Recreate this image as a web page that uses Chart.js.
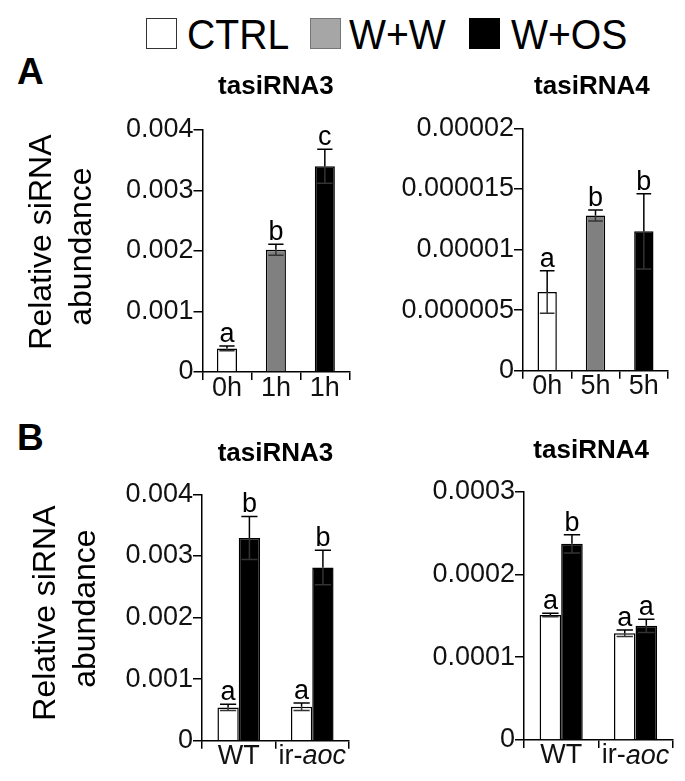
<!DOCTYPE html>
<html><head><meta charset="utf-8">
<script src="https://cdn.jsdelivr.net/npm/chart.js@4.4.1/dist/chart.umd.min.js"></script>
<style>
html,body{margin:0;padding:0;background:#fff;}
body{width:685px;height:781px;position:relative;overflow:hidden;font-family:'Liberation Sans',Arial,sans-serif;}
canvas{position:absolute;left:0;top:0;}
.lab{position:absolute;font-weight:bold;font-size:37px;line-height:1;color:#000;}
.lg{position:absolute;font-size:43px;line-height:1;color:#000;transform-origin:0 0;transform:scaleX(0.91);white-space:nowrap;top:12.6px;}
.box{position:absolute;box-sizing:border-box;width:31px;height:31px;top:18px;border:1.5px solid #333;}
</style></head><body>
<div class="lab" style="left:17px;top:52.7px;">A</div>
<div class="lab" style="left:17px;top:418.7px;">B</div>
<div id="legend"></div>
<canvas id="c1" width="685" height="781"></canvas>
<canvas id="c2" width="685" height="781"></canvas>
<canvas id="c3" width="685" height="781"></canvas>
<canvas id="c4" width="685" height="781"></canvas>
<script>
// ---------- DATA ----------
const legendLabels = ['CTRL', 'W+W', 'W+OS'];

// Panel A, tasiRNA3
const a3Categories = ['0h', '1h', '1h'];
const a3Values = [0.00039, 0.00202, 0.0034];
const a3Errors = [0.00004, 0.00009, 0.00028];
const a3Letters = ['a', 'b', 'c'];
const a3TickValues = [0, 0.001, 0.002, 0.003, 0.004];
const a3TickLabels = ['0', '0.001', '0.002', '0.003', '0.004'];

// Panel A, tasiRNA4
const a4Categories = ['0h', '5h', '5h'];
const a4Values = [0.0000065, 0.0000128, 0.0000115];
const a4Errors = [0.00000175, 0.00000045, 0.0000031];
const a4Letters = ['a', 'b', 'b'];
const a4TickValues = [0, 0.000005, 0.00001, 0.000015, 0.00002];
const a4TickLabels = ['0', '0.000005', '0.00001', '0.000015', '0.00002'];

// Panel B
const bCategories = ['WT', 'ir-aoc'];
const bItalicSuffix = ['', 'aoc'];

const b3Ctrl = [0.00054, 0.00055];
const b3CtrlErr = [0.00005, 0.00006];
const b3CtrlLetters = ['a', 'a'];
const b3Os = [0.00329, 0.00281];
const b3OsErr = [0.00035, 0.00028];
const b3OsLetters = ['b', 'b'];
const b3TickValues = [0, 0.001, 0.002, 0.003, 0.004];
const b3TickLabels = ['0', '0.001', '0.002', '0.003', '0.004'];

const b4Ctrl = [0.000151, 0.000129];
const b4CtrlErr = [0.000002, 0.000004];
const b4CtrlLetters = ['a', 'a'];
const b4Os = [0.000237, 0.000138];
const b4OsErr = [0.000011, 0.000008];
const b4OsLetters = ['b', 'a'];
const b4TickValues = [0, 0.0001, 0.0002, 0.0003];
const b4TickLabels = ['0', '0.0001', '0.0002', '0.0003'];

const yTitleLines = ['Relative siRNA', 'abundance'];

// ---------- STYLE ----------
const FONT = "'Liberation Sans', Arial, sans-serif";
const COL_CTRL = '#ffffff', COL_WW = '#808080', COL_OS = '#000000';
Chart.defaults.font.family = FONT;

// legend (HTML)
(function(){
  const lg = document.getElementById('legend');
  const boxX = [146, 310, 469], textX = [187, 349, 511];
  const fills = ['#ffffff', '#a6a6a6', '#000000'];
  const borders = ['#333333', '#767676', '#000000'];
  legendLabels.forEach((t, i) => {
    const b = document.createElement('div');
    b.className = 'box';
    b.style.left = boxX[i] + 'px';
    b.style.background = fills[i];
    b.style.borderColor = borders[i];
    lg.appendChild(b);
    const s = document.createElement('div');
    s.className = 'lg';
    s.style.left = textX[i] + 'px';
    s.textContent = t;
    lg.appendChild(s);
  });
})();

const W = 685, H = 781;

const errorPlugin = {
  id: 'errs',
  afterDatasetsDraw(chart) {
    const ctx = chart.ctx, y = chart.scales.y;
    chart.data.datasets.forEach((ds, di) => {
      const meta = chart.getDatasetMeta(di);
      meta.data.forEach((bar, i) => {
        const v = ds.data[i], e = ds.errors[i];
        const yt = y.getPixelForValue(v + e), yc = y.getPixelForValue(v), yb = y.getPixelForValue(v - e);
        const half = bar.width * 0.38;
        ctx.save();
        ctx.lineWidth = 1.5;
        ctx.strokeStyle = '#000';
        ctx.beginPath();
        ctx.moveTo(bar.x, yc); ctx.lineTo(bar.x, yt);
        ctx.moveTo(bar.x - half, yt); ctx.lineTo(bar.x + half, yt);
        ctx.stroke();
        ctx.strokeStyle = '#333';
        ctx.beginPath();
        ctx.moveTo(bar.x, yc); ctx.lineTo(bar.x, yb);
        ctx.moveTo(bar.x - half, yb); ctx.lineTo(bar.x + half, yb);
        ctx.stroke();
        ctx.fillStyle = '#000';
        ctx.font = '27px ' + FONT;
        ctx.textAlign = 'center';
        ctx.textBaseline = 'alphabetic';
        ctx.fillText(ds.letters[i], bar.x, yt - 4);
        ctx.restore();
      });
    });
  }
};

const italicXLabels = {
  id: 'italicX',
  afterDraw(chart, args, opts) {
    if (!opts.on) return;
    const sc = chart.scales.x, ctx = chart.ctx;
    ctx.save();
    ctx.fillStyle = '#111';
    ctx.textBaseline = 'middle';
    ctx.textAlign = 'left';
    chart.data.labels.forEach((lab, i) => {
      const it = bItalicSuffix[i] || '';
      const normal = lab.slice(0, lab.length - it.length);
      ctx.font = '27px ' + FONT;
      const w1 = ctx.measureText(normal).width;
      ctx.font = 'italic 27px ' + FONT;
      const w2 = ctx.measureText(it).width;
      const x = sc.getPixelForTick(i) - (w1 + w2) / 2;
      const y = sc.top + 16;
      ctx.font = '27px ' + FONT;
      ctx.fillText(normal, x, y);
      ctx.font = 'italic 27px ' + FONT;
      ctx.fillText(it, x + w1, y);
    });
    ctx.restore();
  }
};

// shifts rotated y-title text upward by padding with leading spaces
function shiftTitle(lines, n) { return lines.map((l, i) => ' '.repeat(n[i]) + l); }

function panel(cfg) {
  const g = cfg.geo;
  const TLH = 31.2;
  const padTop = g.titleY - TLH / 2;
  new Chart(document.getElementById(cfg.id), {
    type: 'bar',
    data: { labels: cfg.labels, datasets: cfg.datasets },
    options: {
      responsive: false, animation: false, devicePixelRatio: 1,
      layout: { padding: { left: 0, top: padTop, right: W - g.right, bottom: H - g.bottom - 40 } },
      plugins: {
        legend: { display: false }, tooltip: { enabled: false },
        title: { display: true, text: cfg.title, fullSize: false, color: '#000',
          font: { size: 26, weight: 'bold', lineHeight: 1.2 },
          padding: { top: 0, bottom: g.top - padTop - TLH } },
        italicX: { on: !!cfg.customX }
      },
      scales: {
        x: {
          offset: true,
          grid: { display: true, offset: true, drawOnChartArea: false, drawTicks: true, tickLength: 8, color: '#000', lineWidth: 1.5 },
          border: { display: true, color: '#000', width: 1.5 },
          ticks: { display: !cfg.customX, color: '#111', font: { size: 27, lineHeight: 0.6 }, padding: 0, maxRotation: 0, autoSkip: false },
          afterFit: s => { s.height = 40; }
        },
        y: {
          min: 0, max: cfg.tickVals[cfg.tickVals.length - 1],
          afterBuildTicks: s => { s.ticks = cfg.tickVals.map(v => ({ value: v })); },
          grid: { display: true, drawOnChartArea: false, drawTicks: true, tickLength: 9, color: '#000', lineWidth: 1.5 },
          border: { display: true, color: '#000', width: 1.5 },
          ticks: { color: '#111', font: { size: 27 }, padding: 0, autoSkip: false, callback: (v, i) => cfg.tickLabels[i] },
          title: cfg.yTitle ? { display: true, text: cfg.yTitle, color: '#000', font: { size: 32, lineHeight: 1.25 }, padding: { top: cfg.yTitlePad, bottom: 0 } } : { display: false },
          afterFit: s => { s.width = g.left; }
        }
      }
    },
    plugins: [errorPlugin, italicXLabels]
  });
}

panel({
  id: 'c1', geo: { left: 202.5, right: 349.3, top: 130, bottom: 372, titleY: 87 },
  labels: a3Categories, title: 'tasiRNA3', yTitle: shiftTitle(yTitleLines, [2, 1]), yTitlePad: 21.7,
  tickVals: a3TickValues, tickLabels: a3TickLabels,
  datasets: [{ data: a3Values, errors: a3Errors, letters: a3Letters,
    backgroundColor: [COL_CTRL, COL_WW, COL_OS], borderColor: '#000', borderWidth: 1.5,
    categoryPercentage: 0.41, barPercentage: 1 }]
});

panel({
  id: 'c2', geo: { left: 523, right: 668, top: 128.3, bottom: 370.7, titleY: 87 },
  labels: a4Categories, title: 'tasiRNA4 ',
  tickVals: a4TickValues, tickLabels: a4TickLabels,
  datasets: [{ data: a4Values, errors: a4Errors, letters: a4Letters,
    backgroundColor: [COL_CTRL, COL_WW, COL_OS], borderColor: '#000', borderWidth: 1.5,
    categoryPercentage: 0.4, barPercentage: 1 }]
});

panel({
  id: 'c3', geo: { left: 202, right: 349, top: 494.3, bottom: 740.7, titleY: 454 },
  labels: bCategories, title: 'tasiRNA3', yTitle: shiftTitle(yTitleLines, [1, 2]), yTitlePad: 26, customX: true,
  tickVals: b3TickValues, tickLabels: b3TickLabels,
  datasets: [
    { label: legendLabels[0], data: b3Ctrl, errors: b3CtrlErr, letters: b3CtrlLetters,
      backgroundColor: COL_CTRL, borderColor: '#000', borderWidth: 1.5, categoryPercentage: 0.58, barPercentage: 1 },
    { label: legendLabels[2], data: b3Os, errors: b3OsErr, letters: b3OsLetters,
      backgroundColor: COL_OS, borderColor: '#000', borderWidth: 1.5, categoryPercentage: 0.58, barPercentage: 1 }
  ]
});

panel({
  id: 'c4', geo: { left: 524, right: 672.7, top: 491.7, bottom: 740, titleY: 451 },
  labels: bCategories, title: 'tasiRNA4  ', customX: true,
  tickVals: b4TickValues, tickLabels: b4TickLabels,
  datasets: [
    { label: legendLabels[0], data: b4Ctrl, errors: b4CtrlErr, letters: b4CtrlLetters,
      backgroundColor: COL_CTRL, borderColor: '#000', borderWidth: 1.5, categoryPercentage: 0.58, barPercentage: 1 },
    { label: legendLabels[2], data: b4Os, errors: b4OsErr, letters: b4OsLetters,
      backgroundColor: COL_OS, borderColor: '#000', borderWidth: 1.5, categoryPercentage: 0.58, barPercentage: 1 }
  ]
});
</script>
</body></html>
